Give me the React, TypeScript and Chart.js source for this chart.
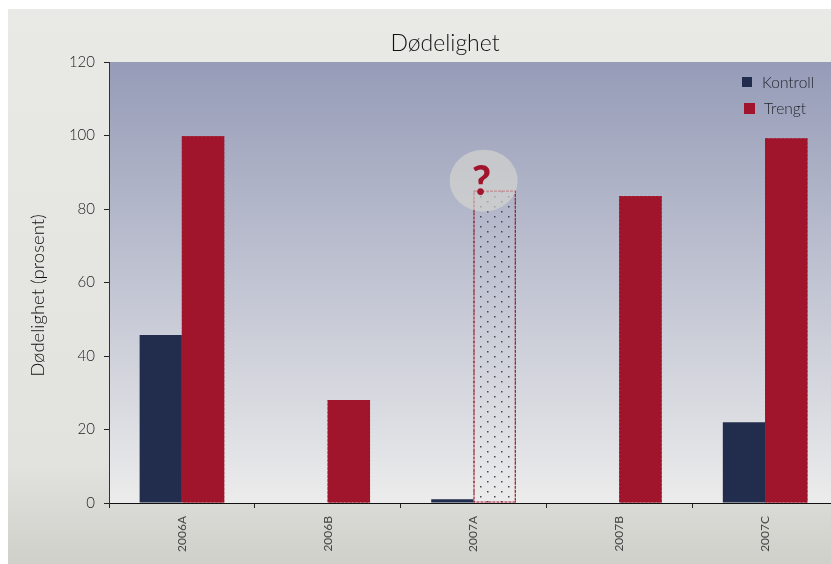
import React, { useEffect, useRef } from "react";
import { Chart, registerables } from "chart.js";

Chart.register(...registerables);

const categories = ["2006A", "2006B", "2007A", "2007B", "2007C"];
const kontroll = [45.7, 0, 1, 0, 22];
const trengt = [99.8, 28, 85, 83.5, 99.2];
const yTicks = [0, 20, 40, 60, 80, 100, 120];
const uncertainIndex = 2;
const NAVY = "#222d4e";
const RED = "#a0152b";
const FONT = "Lato";

function dotPattern(): CanvasPattern | string {
  const c = document.createElement("canvas");
  c.width = 14;
  c.height = 10;
  const x = c.getContext("2d")!;
  x.fillStyle = "#45454f";
  for (const [px, py] of [[3, 2], [10, 7]]) {
    x.fillRect(px, py, 1.5, 1.5);
  }
  return x.createPattern(c, "repeat") ?? "transparent";
}

const decor = {
  id: "decor",
  beforeDraw(chart: any) {
    const { ctx, width, height, chartArea: a } = chart;
    ctx.save();
    const g = ctx.createLinearGradient(0, 0, 0, height);
    g.addColorStop(0, "#e9e9e5");
    g.addColorStop(0.82, "#e2e2de");
    g.addColorStop(1, "#cfd0ca");
    ctx.fillStyle = g;
    ctx.fillRect(0, 0, width, height);
    const p = ctx.createLinearGradient(0, a.top, 0, a.bottom);
    p.addColorStop(0, "#969cb8");
    p.addColorStop(1, "#ececec");
    ctx.fillStyle = p;
    ctx.fillRect(a.left, a.top, a.right - a.left, a.bottom - a.top);
    ctx.restore();
  },
  afterDatasetsDraw(chart: any) {
    const { ctx, data } = chart;
    const bars = chart.getDatasetMeta(1).data;
    ctx.save();
    ctx.strokeStyle = RED;
    ctx.lineWidth = 1.2;
    ctx.setLineDash([3, 1]);
    bars.forEach((b: any) => {
      const w = b.width;
      ctx.strokeRect(b.x - w / 2 + 0.5, b.y + 0.5, w - 1, b.base - b.y - 1);
    });
    ctx.setLineDash([]);
    // uncertainty marker
    const q = bars[uncertainIndex];
    ctx.fillStyle = "rgba(216,216,208,0.62)";
    ctx.beginPath();
    ctx.ellipse(q.x - 11, q.y - 10, 34, 31, 0, 0, Math.PI * 2);
    ctx.fill();
    ctx.fillStyle = RED;
    ctx.font = `900 41px ${FONT}`;
    ctx.textAlign = "center";
    ctx.textBaseline = "middle";
    ctx.fillText("?", q.x - 13, q.y - 9);
    // legend
    const rows = [
      { x: 734, y: 68, s: 10, tx: 754 },
      { x: 736, y: 94, s: 11, tx: 756 },
    ];
    ctx.textAlign = "left";
    ctx.font = `300 15.5px ${FONT}`;
    data.datasets.forEach((d: any, i: number) => {
      const r = rows[i];
      ctx.fillStyle = i === 0 ? NAVY : RED;
      ctx.fillRect(r.x, r.y, r.s, r.s);
      ctx.fillStyle = "#22242e";
      ctx.fillText(d.label, r.tx, r.y + 6);
    });
    // value axis title
    ctx.save();
    ctx.translate(30, 286.5);
    ctx.rotate(-Math.PI / 2);
    ctx.textAlign = "center";
    ctx.font = `300 18.5px ${FONT}`;
    ctx.fillStyle = "#111";
    ctx.fillText("Dødelighet (prosent)", 0, 0);
    ctx.restore();
    ctx.restore();
  },
};

export default function App() {
  const ref = useRef<HTMLCanvasElement>(null);
  useEffect(() => {
    const chart = new Chart(ref.current!, {
      type: "bar",
      data: {
        labels: categories,
        datasets: [
          { label: "Kontroll", data: kontroll, backgroundColor: NAVY },
          {
            label: "Trengt",
            data: trengt,
            backgroundColor: trengt.map((_, i) => (i === uncertainIndex ? dotPattern() : RED)),
          },
        ],
      },
      options: {
        animation: false,
        responsive: false,
        devicePixelRatio: 1,
        layout: { padding: { left: 44, right: 0, top: 0, bottom: 0 } },
        datasets: { bar: { categoryPercentage: 0.58, barPercentage: 1 } },
        plugins: {
          legend: { display: false },
          tooltip: { enabled: false },
          title: {
            display: true,
            text: "Dødelighet",
            color: "#111",
            font: { family: FONT, size: 23, weight: "300" },
            padding: { top: 21, bottom: 4.4 },
          },
        },
        scales: {
          x: {
            afterFit: (s: any) => { s.height = 61; },
            border: { color: "#111", width: 1 },
            grid: { drawOnChartArea: false, tickLength: 5, color: "#222", offset: true },
            ticks: {
              minRotation: 90,
              maxRotation: 90,
              padding: 8,
              color: "#444",
              font: { family: FONT, size: 12, weight: "400" },
            },
          },
          y: {
            min: 0,
            max: 120,
            afterFit: (s: any) => { s.width = 57; },
            afterBuildTicks: (s: any) => { s.ticks = yTicks.map((value) => ({ value })); },
            border: { color: "#333", width: 1 },
            grid: { drawOnChartArea: false, tickLength: 5, color: "#222" },
            ticks: {
              padding: 9,
              color: "#222",
              font: { family: FONT, size: 15, weight: "300" },
            },
          },
        },
      },
      plugins: [decor],
    } as any);
    return () => chart.destroy();
  }, []);
  return (
    <div style={{ position: "absolute", left: 8, top: 9, width: 823, height: 555, overflow: "hidden" }}>
      <canvas ref={ref} width={830} height={555} style={{ display: "block" }} />
    </div>
  );
}
